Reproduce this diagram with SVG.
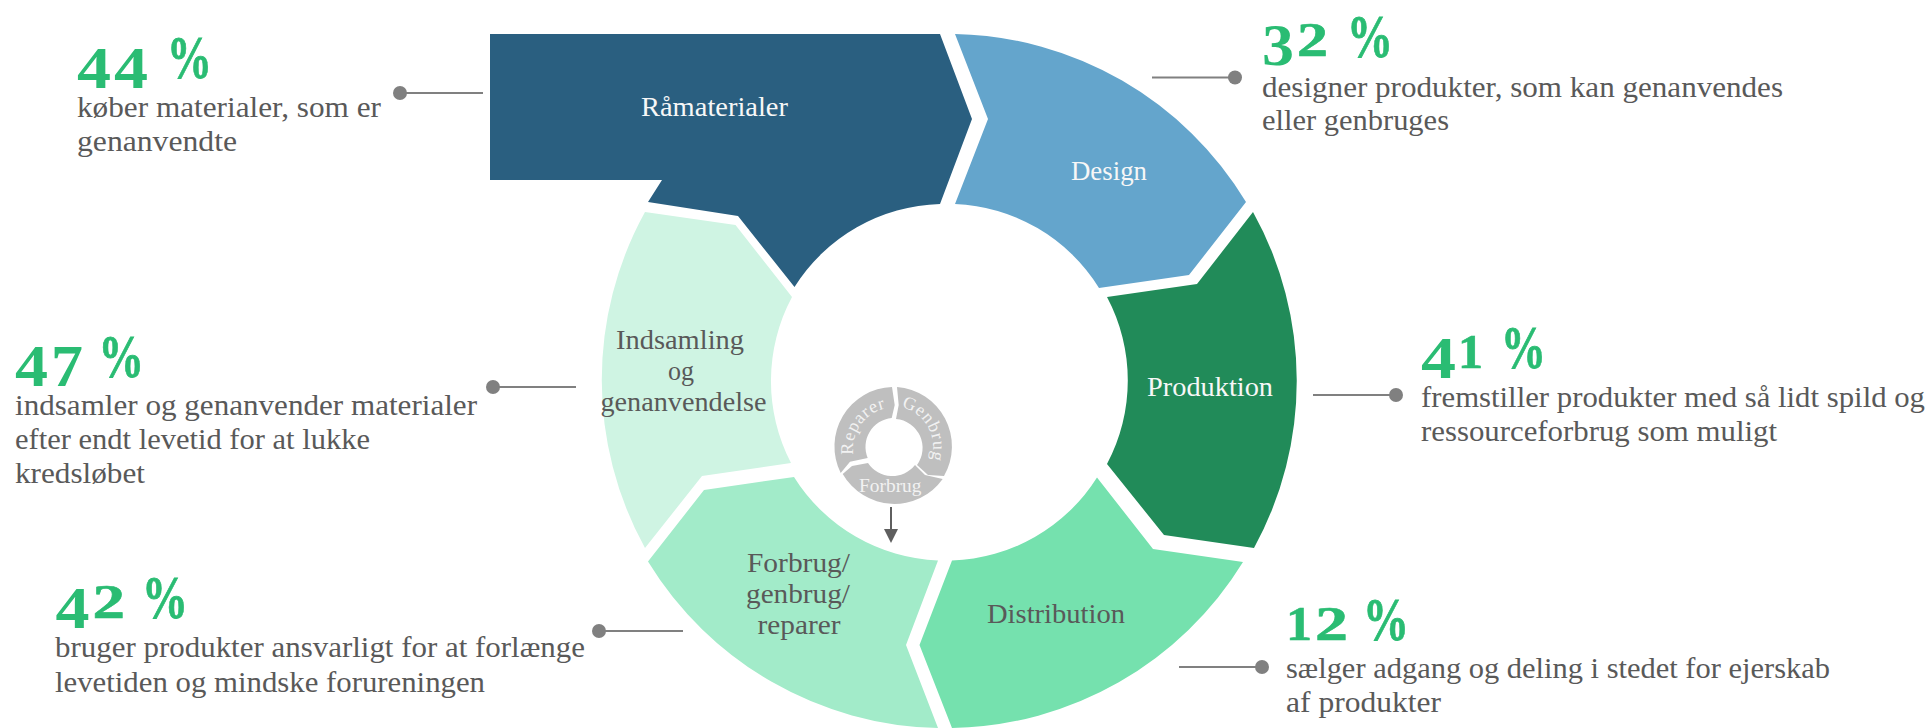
<svg xmlns="http://www.w3.org/2000/svg" xmlns:xlink="http://www.w3.org/1999/xlink" width="1930" height="728" viewBox="0 0 1930 728">
<style>
text{font-family:"Liberation Serif","DejaVu Serif",serif}
.seg{stroke:none}
.lbl{font-size:28px;fill:#595959}
.lw{fill:#f7f7f7}
.body{font-size:29px;fill:#595959}
.stat{font-weight:700;fill:#2abc73}
.d{font-size:60px}
.x{font-size:48px;stroke:#2abc73;stroke-width:.6}
.p{font-size:61px;stroke:#2abc73;stroke-width:.8}
.mini{fill:#bfbfbf}
.mt{font-size:18px;fill:#f2f2f2}
.ln{stroke:#808080;stroke-width:2;fill:none}
.dot{fill:#808080}
.arr{stroke:#5f5f5f;stroke-width:2;fill:none;marker-end:url(#ah)}
</style>
<defs>
<marker id="ah" markerUnits="userSpaceOnUse" markerWidth="14" markerHeight="14" refX="0" refY="7" orient="auto"><path d="M0 0L14 7L0 14Z" fill="#5f5f5f"/></marker>
<path id="pr" d="M868.5 480.5A41 41 0 0 1 915.5 413.5"/>
<path id="pg" d="M872.1 411.1A41 41 0 0 1 911.9 482.9"/>
</defs>
<rect width="1930" height="728" fill="#fff"/>
<g id="node-indsamling">
<path class="seg" fill="#cff4e3" d="M645 212L735.5 225L792 297A178 178 0 0 0 791 463L702 476L645 548A348 348 0 0 1 645 212Z"/>
<text class="lbl" x="616" y="349" textLength="128" lengthAdjust="spacingAndGlyphs">Indsamling</text>
<text class="lbl" x="668" y="380" textLength="26" lengthAdjust="spacingAndGlyphs">og</text>
<text class="lbl" x="600.5" y="411" textLength="166" lengthAdjust="spacingAndGlyphs">genanvendelse</text>
</g>
<g id="node-forbrug">
<path class="seg" fill="#a2ebc9" d="M794 477A178 178 0 0 0 938 560.5L906 645L938 728A348 348 0 0 1 648 561.5L704 490Z"/>
<text class="lbl" x="747" y="571.5" textLength="103" lengthAdjust="spacingAndGlyphs">Forbrug/</text>
<text class="lbl" x="746" y="603" textLength="104" lengthAdjust="spacingAndGlyphs">genbrug/</text>
<text class="lbl" x="757.5" y="634" textLength="83" lengthAdjust="spacingAndGlyphs">reparer</text>
</g>
<g id="node-distribution">
<path class="seg" fill="#75e1ae" d="M1097 477.5L1153 549L1243 562A348 348 0 0 1 952 728L919.5 645L952 560.5A178 178 0 0 0 1097 477.5Z"/>
<text class="lbl" x="987" y="622.5" textLength="138" lengthAdjust="spacingAndGlyphs">Distribution</text>
</g>
<g id="node-produktion">
<path class="seg" fill="#218b59" d="M1253 212A348 348 0 0 1 1254 548L1164 535L1107 464A178 178 0 0 0 1107 297L1197 284Z"/>
<text class="lbl lw" x="1147" y="396" textLength="126" lengthAdjust="spacingAndGlyphs">Produktion</text>
</g>
<g id="node-design">
<path class="seg" fill="#64a5cc" d="M955 34A348 348 0 0 1 1246 202L1189 275L1099 288A178 178 0 0 0 955 204L988 119Z"/>
<text class="lbl lw" x="1071" y="180" textLength="76" lengthAdjust="spacingAndGlyphs">Design</text>
</g>
<g id="node-ramaterialer">
<path class="seg" fill="#2a5f80" d="M490 34H940L972 119L940 204A178 178 0 0 0 794.5 287L738 216L648 202L662 180H490Z"/>
<text class="lbl lw" x="641" y="116" textLength="147" lengthAdjust="spacingAndGlyphs">Råmaterialer</text>
</g>
<g id="node-cycle">
<path class="mini" d="M897 387L898.7 405L896 419A29 29 0 0 1 917 465L928 475L944 476A59.5 59.5 0 0 0 897 387Z"/>
<path class="mini" d="M842.7 474L852 466L868 463A29 29 0 0 0 915 465L925 475L942.7 479A59.5 59.5 0 0 1 842.7 474Z"/>
<path class="mini" d="M892 387L894.7 405L891.7 418A29 29 0 0 0 867.7 458L850 461.7L840.7 473A59.5 59.5 0 0 1 892 387Z"/>
<text class="mt" x="859" y="492" textLength="62.5" lengthAdjust="spacingAndGlyphs">Forbrug</text>
<text class="mt" text-anchor="middle" letter-spacing="0.8"><textPath href="#pr" xlink:href="#pr" startOffset="50%">Reparer</textPath></text>
<text class="mt" text-anchor="middle" letter-spacing="0.8"><textPath href="#pg" xlink:href="#pg" startOffset="50%">Genbrug</textPath></text>
</g>
<g id="connectors">
<path class="ln" d="M400 93H483"/><circle class="dot" cx="400" cy="93" r="7"/>
<path class="ln" d="M1152 77.5H1235"/><circle class="dot" cx="1235" cy="77.5" r="7"/>
<path class="ln" d="M1313 395H1396"/><circle class="dot" cx="1396" cy="395" r="7"/>
<path class="ln" d="M1179 667H1262"/><circle class="dot" cx="1262" cy="667" r="7"/>
<path class="ln" d="M493 387H576"/><circle class="dot" cx="493" cy="387" r="7"/>
<path class="ln" d="M599 631H683"/><circle class="dot" cx="599" cy="631" r="7"/>
<path class="arr" d="M891 507V529"/>
</g>
<g id="stat-44">
<text class="stat"><tspan class="d" x="77" y="88" textLength="34" lengthAdjust="spacingAndGlyphs">4</tspan><tspan class="d" x="114" y="88" textLength="34" lengthAdjust="spacingAndGlyphs">4</tspan><tspan class="p" x="148" y="78"> </tspan><tspan class="p" x="167" y="78" textLength="45" lengthAdjust="spacingAndGlyphs">%</tspan></text>
<text class="body" x="77" y="117" textLength="304" lengthAdjust="spacingAndGlyphs">køber materialer, som er</text>
<text class="body" x="77" y="150.5" textLength="160" lengthAdjust="spacingAndGlyphs">genanvendte</text>
</g>
<g id="stat-32">
<text class="stat"><tspan class="d" x="1262" y="65" textLength="32" lengthAdjust="spacingAndGlyphs">3</tspan><tspan class="x" x="1297" y="56" textLength="31" lengthAdjust="spacingAndGlyphs">2</tspan><tspan class="p" x="1328" y="57"> </tspan><tspan class="p" x="1347" y="57" textLength="46" lengthAdjust="spacingAndGlyphs">%</tspan></text>
<text class="body" x="1262" y="96.5" textLength="521" lengthAdjust="spacingAndGlyphs">designer produkter, som kan genanvendes</text>
<text class="body" x="1262" y="129.5" textLength="187" lengthAdjust="spacingAndGlyphs">eller genbruges</text>
</g>
<g id="stat-41">
<text class="stat"><tspan class="d" x="1421" y="378" textLength="35" lengthAdjust="spacingAndGlyphs">4</tspan><tspan class="x" x="1458" y="368" textLength="25" lengthAdjust="spacingAndGlyphs">1</tspan><tspan class="p" x="1483" y="368"> </tspan><tspan class="p" x="1501" y="368" textLength="45" lengthAdjust="spacingAndGlyphs">%</tspan></text>
<text class="body" x="1421" y="407" textLength="504" lengthAdjust="spacingAndGlyphs">fremstiller produkter med så lidt spild og</text>
<text class="body" x="1421" y="441" textLength="356" lengthAdjust="spacingAndGlyphs">ressourceforbrug som muligt</text>
</g>
<g id="stat-47">
<text class="stat"><tspan class="d" x="15" y="386" textLength="33" lengthAdjust="spacingAndGlyphs">4</tspan><tspan class="d" x="51" y="386" textLength="32" lengthAdjust="spacingAndGlyphs">7</tspan><tspan class="p" x="83" y="377"> </tspan><tspan class="p" x="98.5" y="377" textLength="45.5" lengthAdjust="spacingAndGlyphs">%</tspan></text>
<text class="body" x="15" y="415" textLength="462" lengthAdjust="spacingAndGlyphs">indsamler og genanvender materialer</text>
<text class="body" x="15" y="449" textLength="355" lengthAdjust="spacingAndGlyphs">efter endt levetid for at lukke</text>
<text class="body" x="15" y="482.5" textLength="130" lengthAdjust="spacingAndGlyphs">kredsløbet</text>
</g>
<g id="stat-42">
<text class="stat"><tspan class="d" x="55.5" y="628" textLength="34" lengthAdjust="spacingAndGlyphs">4</tspan><tspan class="x" x="92.5" y="618" textLength="32.5" lengthAdjust="spacingAndGlyphs">2</tspan><tspan class="p" x="125" y="618"> </tspan><tspan class="p" x="142" y="618" textLength="46" lengthAdjust="spacingAndGlyphs">%</tspan></text>
<text class="body" x="55" y="657" textLength="530" lengthAdjust="spacingAndGlyphs">bruger produkter ansvarligt for at forlænge</text>
<text class="body" x="55" y="691.5" textLength="430" lengthAdjust="spacingAndGlyphs">levetiden og mindske forureningen</text>
</g>
<g id="stat-12">
<text class="stat"><tspan class="x" x="1286" y="640" textLength="26" lengthAdjust="spacingAndGlyphs">1</tspan><tspan class="x" x="1315" y="640" textLength="33" lengthAdjust="spacingAndGlyphs">2</tspan><tspan class="p" x="1348" y="640"> </tspan><tspan class="p" x="1363" y="640" textLength="46" lengthAdjust="spacingAndGlyphs">%</tspan></text>
<text class="body" x="1286" y="678" textLength="544" lengthAdjust="spacingAndGlyphs">sælger adgang og deling i stedet for ejerskab</text>
<text class="body" x="1286" y="712" textLength="155" lengthAdjust="spacingAndGlyphs">af produkter</text>
</g>
</svg>
